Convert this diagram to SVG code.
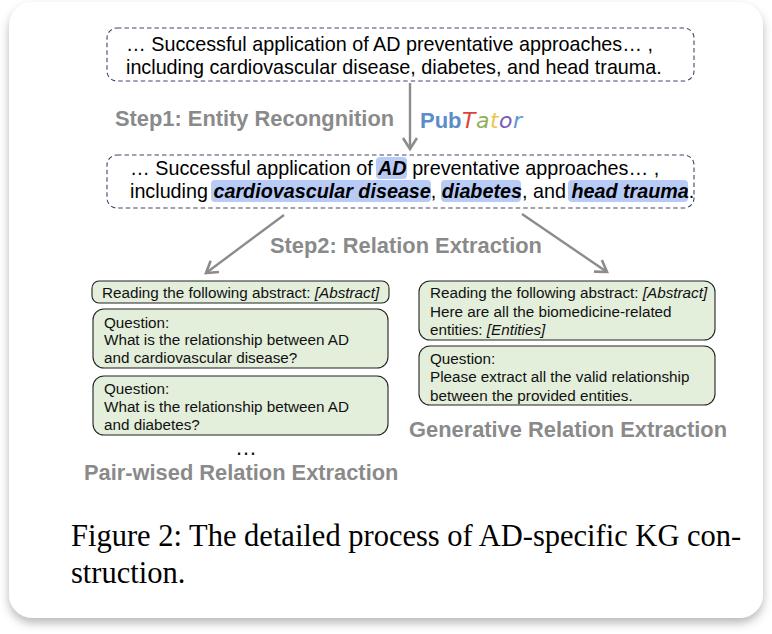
<svg xmlns="http://www.w3.org/2000/svg" width="772" height="634" viewBox="0 0 772 634">
<style>
.sans{font-family:"Liberation Sans",Arial,sans-serif}
.body{font-size:19.75px;fill:#000}
.prompt{font-size:15.25px;fill:#111}
.step{font-size:21.85px;font-weight:700;fill:#8a8a8a}
.ent{font-weight:700;font-style:italic}
.hl{fill:#b8cbf6}
.dash{fill:#fff;stroke:#3b4a6b;stroke-width:1.1;stroke-dasharray:4.5 3}
.card{fill:#e3eedb;stroke:#222;stroke-width:1.1}
.conn{fill:none;stroke:#8c8c8c;stroke-width:2.4}
.cap{font-family:"Liberation Serif","Times New Roman",serif;font-size:30.5px;fill:#000}
.tt{font-family:"DejaVu Sans",sans-serif;font-size:22px;font-style:italic;font-weight:400}
</style>
<defs>
<filter id="sh" x="-5%" y="-5%" width="110%" height="110%"><feDropShadow dx="0" dy="5" stdDeviation="5" flood-color="#000" flood-opacity="0.28"/></filter>
<marker id="arr" markerUnits="userSpaceOnUse" markerWidth="18" markerHeight="18" refX="13" refY="8" orient="auto"><path d="M2 1 L13 8 L2 15" fill="none" stroke="#8c8c8c" stroke-width="2.6"/></marker>
</defs>
<rect width="772" height="634" fill="#fff"/>
<rect x="9" y="2" width="754" height="616" rx="24" fill="#fff" filter="url(#sh)"/>

<g id="connectors">
<path class="conn" d="M410 83V149" marker-end="url(#arr)"/>
<path class="conn" d="M284 215L206 273" marker-end="url(#arr)"/>
<path class="conn" d="M522 214L607 272" marker-end="url(#arr)"/>
</g>

<g id="source-abstract">
<rect class="dash" x="107" y="28" width="587" height="53" rx="10"/>
<text class="sans body" x="126" y="51">… Successful application of AD preventative approaches… ,</text>
<text class="sans body" x="126" y="74">including cardiovascular disease, diabetes, and head trauma.</text>
</g>

<g id="annotated-abstract">
<rect class="dash" x="107" y="155" width="587" height="53" rx="10"/>
<rect class="hl" x="376" y="157" width="31" height="22" rx="4"/>
<rect class="hl" x="211" y="180" width="220" height="22" rx="4"/>
<rect class="hl" x="441" y="180" width="80" height="22" rx="4"/>
<rect class="hl" x="568" y="180" width="120" height="22" rx="4"/>
<text class="sans body" x="130" y="175">… Successful application of <tspan class="ent">AD</tspan> preventative approaches… ,</text>
<text class="sans body" x="130" y="198">including <tspan class="ent">cardiovascular disease</tspan>, <tspan class="ent">diabetes</tspan>, and <tspan class="ent">head trauma</tspan>.</text>
</g>

<g id="step1-label"><text class="sans step" x="115" y="126">Step1: Entity Recongnition</text></g>
<g id="pubtator-label">
<text x="420" y="128" class="sans" font-size="22" font-weight="700" fill="#5b8ec9">Pub<tspan class="tt" x="462" fill="#e0413a">T</tspan><tspan class="tt" x="476" fill="#8fb05a">a</tspan><tspan class="tt" x="490" fill="#f0c64a">t</tspan><tspan class="tt" x="499" fill="#7a5bb5">o</tspan><tspan class="tt" x="513" fill="#5b9bd5">r</tspan></text>
</g>
<g id="step2-label"><text class="sans step" x="270" y="253">Step2: Relation Extraction</text></g>

<g id="pair-reading">
<rect class="card" x="92" y="281" width="297" height="22" rx="7"/>
<text class="sans prompt" x="102" y="298">Reading the following abstract: <tspan font-style="italic">[Abstract]</tspan></text>
</g>
<g id="pair-question-1">
<rect class="card" x="93" y="309" width="295" height="59" rx="11"/>
<text class="sans prompt" x="104" y="328">Question:</text>
<text class="sans prompt" x="104" y="345">What is the relationship between AD</text>
<text class="sans prompt" x="104" y="363">and cardiovascular disease?</text>
</g>
<g id="pair-question-2">
<rect class="card" x="93" y="376" width="295" height="59" rx="11"/>
<text class="sans prompt" x="104" y="394">Question:</text>
<text class="sans prompt" x="104" y="412">What is the relationship between AD</text>
<text class="sans prompt" x="104" y="430">and diabetes?</text>
</g>
<g id="pair-ellipsis"><text class="sans" x="235" y="455" font-size="22" fill="#111">…</text></g>
<g id="pair-label"><text class="sans step" x="84" y="480">Pair-wised Relation Extraction</text></g>

<g id="gen-reading">
<rect class="card" x="419" y="281" width="296" height="59" rx="11"/>
<text class="sans prompt" x="430" y="298">Reading the following abstract: <tspan font-style="italic">[Abstract]</tspan></text>
<text class="sans prompt" x="430" y="317">Here are all the biomedicine-related</text>
<text class="sans prompt" x="430" y="335">entities: <tspan font-style="italic">[Entities]</tspan></text>
</g>
<g id="gen-question">
<rect class="card" x="419" y="346" width="296" height="59" rx="11"/>
<text class="sans prompt" x="430" y="364">Question:</text>
<text class="sans prompt" x="430" y="382">Please extract all the valid relationship</text>
<text class="sans prompt" x="430" y="401">between the provided entities.</text>
</g>
<g id="gen-label"><text class="sans step" x="409" y="437">Generative Relation Extraction</text></g>

<g id="caption">
<text class="cap" x="71" y="546">Figure 2: The detailed process of AD-specific KG con-</text>
<text class="cap" x="71" y="583">struction.</text>
</g>
</svg>
